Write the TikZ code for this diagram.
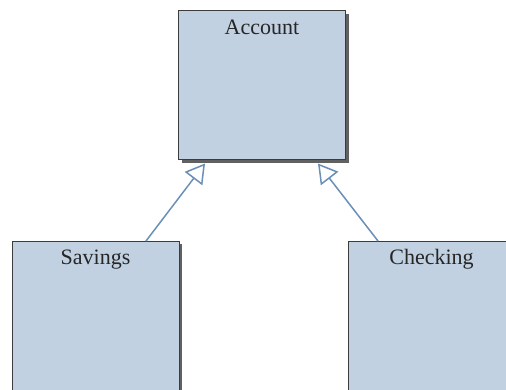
\documentclass[tikz,border=0pt]{standalone}
\usepackage{fontspec}
\setmainfont{Liberation Serif}
\usetikzlibrary{arrows.meta,shadows}
\definecolor{boxfill}{HTML}{C1D1E2}
\definecolor{boxline}{HTML}{3C3C3C}
\definecolor{linkblue}{HTML}{6A8FB8}
\tikzset{
  classbox/.style={draw=boxline,line width=1pt,fill=boxfill,minimum width=167pt,minimum height=149pt,inner sep=0pt,
    drop shadow={shadow xshift=3pt,shadow yshift=-3pt,fill=black!62,opacity=1}},
  classname/.style={anchor=base,inner sep=0pt,font=\fontsize{22}{26}\selectfont,text=black!85},
  inherit/.style={draw=linkblue,line width=1.5pt,-{Triangle[open,fill=white,length=19pt,width=22pt]}}
}

\begin{document}
\begin{tikzpicture}[node distance=230.5pt]
      \useasboundingbox (0,0) rectangle (506pt,-390pt);
      \node[classbox] (1) at (262pt,-85.5pt) {};
      \node[classbox,below of=1,xshift=-166.5pt] (2) {};
      \node[classbox,below of=1,xshift=169.5pt] (3) {};

      \node[classname] (1t) at ([yshift=-24pt]1.north) {Account};
      \node[classname] (2t) at ([yshift=-23.5pt]2.north) {Savings};
      \node[classname] (3t) at ([yshift=-24pt]3.north) {Checking};

      \draw[inherit] ([xshift=50.5pt]2.north) -- ([xshift=-57pt,yshift=-3pt]1.south);
      \draw[inherit] ([xshift=-53.5pt]3.north) -- ([xshift=56pt,yshift=-3pt]1.south);
    \end{tikzpicture}
\end{document}
